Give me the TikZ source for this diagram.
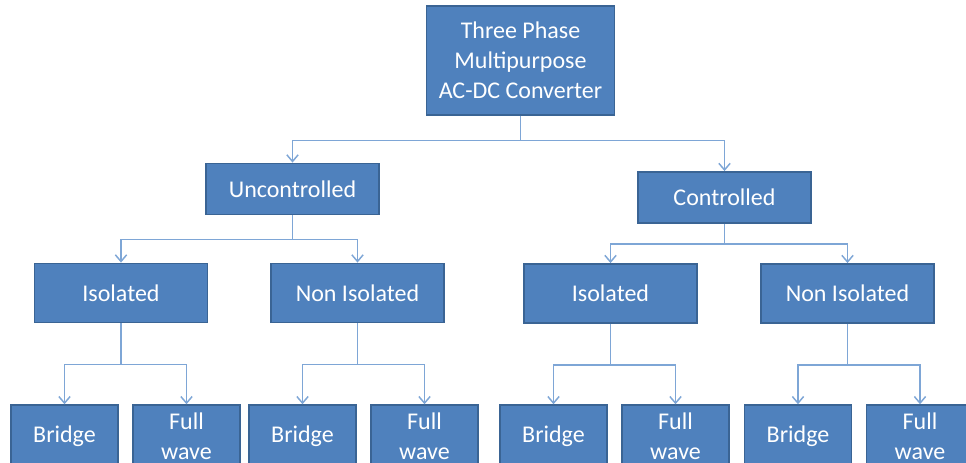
\documentclass[tikz,border=0pt]{standalone}
\usepackage{fontspec}
\setmainfont{Carlito}
\usepackage{xcolor}
\definecolor{colorBox}{HTML}{4F81BD}
\definecolor{colorBorder}{HTML}{3A6494}
\definecolor{colorLink}{HTML}{7EA6D6}
\usetikzlibrary{arrows.meta, positioning}
\tikzset{
  block/.style={draw=colorBorder, fill=colorBox, line width=1.1pt, text=white,
    align=center, inner sep=0pt, font=\fontsize{18pt}{22.5pt}\selectfont},
  rootblock/.style={block, minimum width=141pt, minimum height=81.5pt},
  kindblock/.style={block, minimum width=129.5pt, minimum height=38.5pt},
  typeblock/.style={block, minimum width=129.5pt, minimum height=44.5pt},
  leafblock/.style={block, minimum width=80pt, minimum height=46.5pt},
  link/.style={colorLink, line width=1.1pt, -{Straight Barb[length=5pt,width=8.5pt]}}
}

\begin{document}
\begin{tikzpicture}[x=0.75pt, y=-0.75pt, node distance=91.5pt]
\clip (0,0) rectangle (966,463);
\node[rootblock] (conv) at (520.5,60.5) {Three Phase\\Multipurpose\\AC-DC Converter};
\node[kindblock] (unc) at (292.5,189) {Uncontrolled};
\node[kindblock] (con) at (724.5,197.5) {Controlled};
\node[typeblock] (isoU) at (121,293) {Isolated};
\node[typeblock] (nonU) at (357.5,293) {Non Isolated};
\node[typeblock] (isoC) at (610.5,293.5) {Isolated};
\node[typeblock] (nonC) at (847.5,293.5) {Non Isolated};
% leaves
\node[leafblock] (brIU) at (64.5,436) {Bridge};
\node[leafblock, right of=brIU] (fwIU) {Full\\wave};
\node[leafblock] (brNU) at (302.5,436) {Bridge};
\node[leafblock, right of=brNU] (fwNU) {Full\\wave};
\node[leafblock] (brIC) at (553.5,436) {Bridge};
\node[leafblock, right of=brIC] (fwIC) {Full\\wave};
\node[leafblock] (brNC) at (798,436) {Bridge};
\node[leafblock, right of=brNC] (fwNC) {Full\\wave};
% connectors
\draw[link] (conv.south) -- ++(0,25) -| (unc.north);
\draw[link] (conv.south) -- ++(0,25) -| (con.north);
\draw[link] (unc.south) -- ++(0,24) -| (isoU.north);
\draw[link] (unc.south) -- ++(0,24) -| (nonU.north);
\draw[link] (con.south) -- ++(0,20) -| (isoC.north);
\draw[link] (con.south) -- ++(0,20) -| (nonC.north);
\draw[link] (isoU.south) -- ++(0,41) -| (brIU.north);
\draw[link] (isoU.south) -- ++(0,41) -| (fwIU.north);
\draw[link] (nonU.south) -- ++(0,41) -| (brNU.north);
\draw[link] (nonU.south) -- ++(0,41) -| (fwNU.north);
\draw[link] (isoC.south) -- ++(0,41) -| (brIC.north);
\draw[link] (isoC.south) -- ++(0,41) -| (fwIC.north);
\draw[link] (nonC.south) -- ++(0,41) -| (brNC.north);
\draw[link] (nonC.south) -- ++(0,41) -| (fwNC.north);
\end{tikzpicture}
\end{document}
